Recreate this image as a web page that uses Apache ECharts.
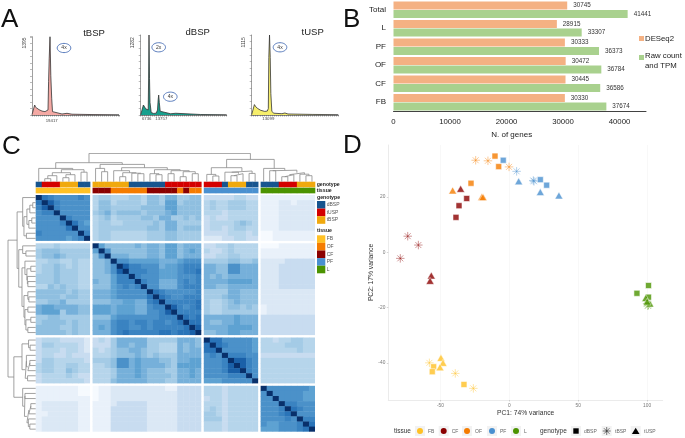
<!DOCTYPE html>
<html><head><meta charset="utf-8">
<style>html,body{margin:0;padding:0;background:#fff}#c{width:685px;height:438px;filter:blur(.3px)}</style>
<script src="https://cdn.jsdelivr.net/npm/echarts@6/dist/echarts.min.js"></script>
</head><body><div id="c"></div>
<script>
// ---------- Panel A: electropherograms ([position, signal])
const tbspTrace=[[0,5],[2.7,178],[3.5,140],[5,120],[7,95],[10,70],[13,60],[15,65],[16,90],[16.6,600],[17.2,1000],[18,1395],[18.8,700],[19.7,300],[20.5,60],[22,25],[30,18],[35,30],[40,14],[60,8],[87,5]];
const dbspTrace=[[0,5],[2.7,160],[3.5,135],[5,100],[6.5,75],[7.5,80],[7.9,560],[8.3,1282],[8.8,587],[9.3,200],[10.5,40],[13,25],[15.5,30],[16.8,80],[17.5,250],[18,320],[18.6,200],[19.5,60],[21,28],[30,20],[35,28],[37,15],[60,8],[86,5]];
const tuspTrace=[[0,5],[2.7,145],[4,115],[6,90],[9,65],[13,50],[15.5,55],[16.5,90],[17,800],[17.7,1115],[18.4,800],[19,300],[20,50],[22,25],[30,18],[33,28],[36,14],[60,8],[86,5]];
const peakMax=[1395,1282,1115];
// ---------- Panel B
const geneCats=['Total','L','PF','OF','CF','FB'];
const deseq2=[30745,28915,30333,30472,30445,30330];
const rawTpm=[41441,33307,36373,36784,36586,37674];
// ---------- Panel C: upper triangle of the sample distance heatmap, hex shade per cell
const block1Upper=["Fba9999a9","Fca99999","Fa99999","F99999","Fa999","Fb98","F99","Fa","F"];
const cross1vs2=["455444554665775566","466455554665885666","466555556666886666","567566665666786666","456455556657755656","455445555565775555","455555555665775666","455444444555665555","455444444555665555"];
const cross1vsPF=["333334433","454455544","454455544","444344444","343344444","344445654","344345544","333344434","222334433"];
const cross1vsL=["111111111","111221222","111222222","111222222","111222222","111222222","111222222","001111111","001111111"];
const block2Upper=["F86666676776886777","F9666666776886787","F777666776886777","F99888887778999","Fcaa9997889aaa","Faaa998889aab","Fa999888999a","Fa997779a9a","F997779aaa","Fba99999a","Fba99aaa","Faaaaab","Fca9ab","Faaaa","Fbab","Fbb","Fc","F"];
const cross2vsPF=["334454444","433454444","334455444","555566556","776699777","776699777","767677777","777788887","776677777","555577666","555677666","544567666","544566565","544555555","777778777","766778777","777788887","667788777"];
const cross2vsL=["000111111","111111111","111111111","222233333","222333333","222333333","222333333","222333333","222333333","222222222","222222222","222222222","122222222","122222222","333333333","333333333","333333333","333333333"];
const block3Upper=["Fbb999998","Fba99998","F999998","Faaa99","Fcca9","Fca9","Fa9","F9","F"];
const crossPFvsL=["443445544","444455544","444444544","333333333","444444444","444444444","444444444","444444444","444444444"];
const block4Upper=["F99999998","F9999988","F999988","Faa999","Fba99","F999","Faa","Fb","F"];
// shared cluster tree: [height, left, right], 0 = leaf
const treeFB=[13.3,0,[12,[9,[6,[3,0,0],0],[7,[4,0,0],0]],[9.5,0,0]]];
const treeCFOF=[17.3,[13.3,0,[10,0,0]],[14,[11,0,[9,[5,0,0],[8.5,0,[8,0,0]]]],[12,[8,0,[7,0,0]],[11,[8,0,0],[10,[5,0,0],[8,0,0]]]]]];
const treePF=[14,[7.3,0,[5.7,0,0]],[10.7,[9.5,0,[8,[6,0,0],0]],[8.3,0,0]]];
const treeL=[13.3,0,[11.5,[11,0,0],[9,[7,[5,0,0],0],[7.5,0,[6,0,0]]]]];
const sampleTree=[28.3,[19,treeFB,treeCFOF],[22.3,treePF,treeL]];
const blockSizes=[9,18,9,9];
const genotypeBar="dtttbbbdd"+"bbbbbbddddddtttttt"+"tttdbbbdd"+"dddtttbbb";
const tissueBar="FFFFFFFFF"+"CCCOOOOOOCCCCCOCOO"+"PPPPPPPPP"+"LLLLLLLLL";
const genotypeColors={d:'#17558f',t:'#d40000',b:'#f0a90e'};
const tissueColors={F:'#ffc125',C:'#8b0000',O:'#f57c00',P:'#4a90d0',L:'#4b9300'};
const heatStops=['#f6fafe','#e9f1fa','#dbe8f5','#c8dcf0','#b6d5eb','#a4cbe6','#8fbfe0','#76b0da','#5ea2d2','#4b91c9','#3a83c1','#2a74b8','#1a60a8','#114f96','#0b3f80','#08306b'];
// ---------- Panel D: PCA coordinates
const fbSquare=[[-54.9,-41.3],[-55.9,-43.1],[-32.9,-47.7]];
const fbStar=[[-58,-39.9],[-39.2,-43.7],[-26.1,-49.1]];
const fbTri=[[-49.6,-38.1],[-48.1,-39.9],[-50.3,-41.5]];
const cfSquare=[[-30.9,19.4],[-36.5,16.8],[-38.7,12.6]];
const cfStar=[[-73.7,5.8],[-66,2.6],[-79.1,-2.2]];
const cfTri=[[-35.3,22.9],[-56.6,-8.4],[-57.5,-10.3]];
const ofSquare=[[-27.8,24.9],[-10.4,34.7],[-7.7,30.9]];
const ofStar=[[-24.4,33.2],[-15.5,33],[-0.2,30.8]];
const ofTri=[[-41.1,22.3],[-20,19.9],[-19.1,19.9]];
const pfSquare=[[-4.4,33.2],[22.5,26.2],[27.1,24.2]];
const pfStar=[[5.3,29.2],[17.9,25.6],[17.4,25.9]];
const pfTri=[[6.8,25.6],[22.5,21.7],[36,20.5]];
const lSquare=[[101,-12],[92.6,-14.8],[101,-16.2]];
const lStar=[[100,-18.5],[101,-19],[100.5,-19.3]];
const lTri=[[99,-16.5],[102,-18.5],[100,-17.8]];
const pcaXTicks=[-50,0,50,100], pcaYTicks=[-40,-20,0,20];

const FONT='"Liberation Sans",Arial,sans-serif';
// ---- assemble heat matrix (symmetric)
const N=45, M=[...Array(N)].map(()=>Array(N).fill(0));
const put=(r,c,ch)=>{const v=parseInt(ch,16);M[r][c]=v;M[c][r]=v;};
const tri=(rows,off)=>rows.forEach((s,k)=>{for(let i=0;i<s.length;i++)put(off+k,off+k+i,s[i]);});
const rect=(rows,ro,co)=>rows.forEach((s,k)=>{for(let i=0;i<s.length;i++)put(ro+k,co+i,s[i]);});
tri(block1Upper,0);tri(block2Upper,9);tri(block3Upper,27);tri(block4Upper,36);
rect(cross1vs2,0,9);rect(cross1vsPF,0,27);rect(cross1vsL,0,36);rect(cross2vsPF,9,27);rect(cross2vsL,9,36);rect(crossPFvsL,27,36);
const heatData=[];for(let r=0;r<N;r++)for(let c=0;c<N;c++)heatData.push([c,r,M[r][c]]);
const blockOf=i=>{let a=0;for(let b=0;b<4;b++){a+=blockSizes[b];if(i<a)return b;}return 3;};
const GX=0.41,GY=0.47,xSpan=N+3*GX,ySpan=N+3*GY;
const xpos=i=>i+GX*blockOf(i), ypos=i=>i+GY*blockOf(i);
// dendrogram segments
function dendro(tree,pos){let leaf=0;const segs=[];
 (function walk(n){if(n===0){return [pos(leaf++)+0.5,0];}
  const a=walk(n[1]),b=walk(n[2]),h=n[0];
  segs.push([a[0],a[1]],[a[0],h],[b[0],h],[b[0],b[1]],[NaN,NaN]);
  return [(a[0]+b[0])/2,h];})(tree);return segs;}

const grids=[
 {left:32,top:36.7,width:87,height:78.3},{left:140.7,top:35,width:86,height:80},{left:251.7,top:35,width:86.6,height:80},
 {left:393.5,top:0.5,width:252.5,height:111},
 {left:35.7,top:195,width:279.3,height:236.7},
 {left:35.7,top:181.7,width:279.3,height:12},
 {left:35.7,top:153.3,width:279.3,height:28.4},
 {left:8,top:195,width:27.7,height:236.7},
 {left:388.3,top:145,width:274.4,height:255}
];
const traceAxis=(i,maxx)=>({gridIndex:i,type:'value',min:0,max:maxx,interval:2,axisLine:{lineStyle:{color:'#555',width:.7}},axisTick:{show:true,length:1.5,lineStyle:{color:'#555',width:.5}},axisLabel:{show:false},splitLine:{show:false}});
const traceY=(i,p)=>({gridIndex:i,type:'value',min:0,max:p,interval:Math.round(p/12),axisLine:{show:true,lineStyle:{color:'#777',width:.7}},axisTick:{show:true,length:2,lineStyle:{color:'#777',width:.5}},axisLabel:{show:false},splitLine:{show:false}});
const hidden=(i,min,max,inv)=>({gridIndex:i,type:'value',min,max,show:false,inverse:!!inv});
const plain=v=>String(v);
const xAxes=[traceAxis(0,87),traceAxis(1,86),traceAxis(2,86),
 {gridIndex:3,type:'value',min:0,max:44690,interval:10000,axisLine:{show:true,lineStyle:{color:'#111',width:.8}},axisTick:{show:false},splitLine:{show:false},axisLabel:{formatter:plain,fontFamily:FONT,fontSize:7.8,color:'#222',margin:6,showMaxLabel:false}},
 hidden(4,0,xSpan),hidden(5,0,xSpan),hidden(6,0,xSpan),hidden(7,0,28.3,true),
 {gridIndex:8,type:'value',min:-87.8,max:111.3,axisLine:{show:true,onZero:false,lineStyle:{color:'#e6e6e6',width:.8}},axisTick:{show:true,length:1.5,customValues:pcaXTicks,lineStyle:{color:'#aaa',width:.5}},splitLine:{show:true,lineStyle:{color:'#f3f3f3',width:.6}},axisLabel:{customValues:pcaXTicks,fontFamily:FONT,fontSize:4.8,color:'#777',margin:3}}
];
const yAxes=[traceY(0,peakMax[0]),traceY(1,peakMax[1]),traceY(2,peakMax[2]),
 {gridIndex:3,type:'category',data:geneCats,inverse:true,axisLine:{show:false},axisTick:{show:false},axisLabel:{fontFamily:FONT,fontSize:8,color:'#222',margin:7.5}},
 hidden(4,0,ySpan,true),hidden(5,0,2,true),hidden(6,0,28.4),hidden(7,0,ySpan,true),
 {gridIndex:8,type:'value',min:-53.3,max:38.7,axisLine:{show:true,onZero:false,lineStyle:{color:'#e6e6e6',width:.8}},axisTick:{show:true,length:1.5,customValues:pcaYTicks,lineStyle:{color:'#aaa',width:.5}},splitLine:{show:false},axisLabel:{customValues:pcaYTicks,fontFamily:FONT,fontSize:4.8,color:'#777',margin:3}}
];
const trace=(i,d,c)=>({type:'line',xAxisIndex:i,yAxisIndex:i,data:d,symbol:'none',silent:true,animation:false,lineStyle:{color:'#333',width:.8},areaStyle:{color:c,opacity:1}});
const barLab={show:true,position:'right',distance:6,fontFamily:FONT,fontSize:6.3,color:'#333'};
const cellRect=(api,x0,y0,x1,y1,fill)=>{const a=api.coord([x0,y0]),b=api.coord([x1,y1]);return {type:'rect',shape:{x:a[0],y:a[1],width:b[0]-a[0],height:b[1]-a[1]},style:{fill}};};
const annotData=[];for(let c=0;c<N;c++){annotData.push([c,0,genotypeColors[genotypeBar[c]]]);annotData.push([c,1,tissueColors[tissueBar[c]]]);}
const STAR='path://M0 -10V10M-10 0H10M-7 -7L7 7M-7 7L7 -7';
const pca=(d,kind,color)=>{
 const base={type:'scatter',xAxisIndex:8,yAxisIndex:8,data:d,animation:false,silent:true};
 if(kind==='s')return {...base,symbol:'rect',symbolSize:6,itemStyle:{color,borderColor:'#fff',borderWidth:.7}};
 if(kind==='t')return {...base,symbol:'triangle',symbolSize:[8,7],itemStyle:{color,borderColor:'#fff',borderWidth:.6}};
 return {...base,symbol:STAR,symbolSize:8.5,itemStyle:{color:'rgba(0,0,0,0)',borderColor:color,borderWidth:.6,opacity:.7}};
};
const C=tissueColors;
const series=[
 trace(0,tbspTrace,'#f4a9a4'),trace(1,dbspTrace,'#17a08e'),trace(2,tuspTrace,'#f6ee6c'),
 {type:'bar',name:'DESeq2',xAxisIndex:3,yAxisIndex:3,data:deseq2,barWidth:8,barGap:'5%',silent:true,animation:false,itemStyle:{color:'#f4b183'},label:barLab},
 {type:'bar',name:'Raw count and TPM',xAxisIndex:3,yAxisIndex:3,data:rawTpm,barWidth:8,barGap:'5%',silent:true,animation:false,itemStyle:{color:'#a9d18e'},label:barLab},
 {type:'custom',xAxisIndex:4,yAxisIndex:4,data:heatData,silent:true,animation:false,encode:{x:0,y:1},
  renderItem:(p,api)=>{const c=api.value(0),r=api.value(1);const x=xpos(c),y=ypos(r);
   const a=api.coord([x,y]),b=api.coord([x+1,y+1]);
   const ex=(c===N-1||blockOf(c)!==blockOf(c+1))?0:.4, ey=(r===N-1||blockOf(r)!==blockOf(r+1))?0:.4;
   return {type:'rect',shape:{x:a[0],y:a[1],width:b[0]-a[0]+ex,height:b[1]-a[1]+ey},style:{fill:api.visual('color')}};}},
 {type:'custom',xAxisIndex:5,yAxisIndex:5,data:annotData,silent:true,animation:false,encode:{x:0,y:1},
  renderItem:(p,api)=>{const c=api.value(0),r=api.value(1);const i=p.dataIndex;return cellRect(api,xpos(c),r,xpos(c)+1.05,r+.94,annotData[i][2]);}},
 {type:'line',xAxisIndex:6,yAxisIndex:6,data:dendro(sampleTree,xpos),symbol:'none',silent:true,animation:false,connectNulls:false,lineStyle:{color:'#8a8a8a',width:.8}},
 {type:'line',xAxisIndex:7,yAxisIndex:7,data:dendro(sampleTree,ypos).map(p=>[p[1],p[0]]),symbol:'none',silent:true,animation:false,connectNulls:false,lineStyle:{color:'#8a8a8a',width:.8}},
 pca(fbStar,'x',C.F),pca(cfStar,'x',C.C),pca(ofStar,'x',C.O),pca(pfStar,'x',C.P),pca(lStar,'x',C.L),
 pca(fbSquare,'s',C.F),pca(cfSquare,'s',C.C),pca(ofSquare,'s',C.O),pca(pfSquare,'s',C.P),pca(lSquare,'s',C.L),
 pca(fbTri,'t',C.F),pca(cfTri,'t',C.C),pca(ofTri,'t',C.O),pca(pfTri,'t',C.P),pca(lTri,'t',C.L)
];
// ---- graphic annotations
const g=[];
const T=(text,x,y,size,opt={})=>g.push({type:'text',x,y,rotation:opt.rot||0,silent:true,style:{text,fontFamily:FONT,fontSize:size,fontWeight:opt.bold?'bold':'normal',fill:opt.color||'#222',align:opt.align||'left',verticalAlign:'middle'}});
const R=(x,y,w,h,fill)=>g.push({type:'rect',silent:true,shape:{x,y,width:w,height:h},style:{fill}});
['A','B','C','D'].forEach((L,i)=>T(L,[1,343,2,343][i],[19.5,19.5,147,146][i],26,{color:'#111'}));
[['tBSP',94,33],['dBSP',197.7,32],['tUSP',312.7,32]].forEach(a=>T(a[0],a[1],a[2],9.5,{align:'center'}));
[[64,48,'4x'],[158.7,47.3,'2x'],[170.3,96.7,'4x'],[280,47.3,'4x']].forEach(e=>{
 g.push({type:'ellipse',silent:true,shape:{cx:e[0],cy:e[1],rx:6.8,ry:4.6},style:{fill:'none',stroke:'#4a6fb5',lineWidth:.9}});
 T(e[2],e[0],e[1],5,{align:'center',color:'#333'});});
peakMax.forEach((p,i)=>T(String(p),[25,133,243.7][i],[43,42.7,42.3][i],5,{align:'center',rot:Math.PI/2,color:'#444'}));
[['19417',51.7,121],['6736',146.7,118.5],['13757',161.3,118.5],['13099',268.3,119.3]].forEach(a=>T(a[0],a[1],a[2],4.3,{align:'center',color:'#444'}));
// panel B extras
T('N. of genes',511.7,135,8,{align:'center'});
R(639,36,5,5,'#f4b183');T('DESeq2',645,38.5,7.8);
R(639,55,5,5,'#a9d18e');T('Raw count',645,55.7,7.8);T('and TPM',645,66,7.8);
// panel C legends
T('genotype',316.7,185,5.2,{bold:true});T('tissue',316.7,191,5.2,{bold:true});
T('genotype',317,197.3,5.2,{bold:true});
[['dBSP',genotypeColors.d],['tUSP',genotypeColors.t],['tBSP',genotypeColors.b]].forEach((a,i)=>{R(317,201+i*7.6,8.3,7.6,a[1]);T(a[0],326.7,204.8+i*7.6,5,{color:'#555'});});
T('tissue',317,231,5.2,{bold:true});
[['FB',C.F],['OF',C.O],['CF',C.C],['PF',C.P],['L',C.L]].forEach((a,i)=>{R(317,235.3+i*7.6,8.3,7.6,a[1]);T(a[0],326.7,239.1+i*7.6,5,{color:'#555'});});
// panel D labels + legend
T('PC1: 74% variance',525.7,412.7,6.7,{align:'center',color:'#333'});
T('PC2: 17% variance',370.7,272.5,6.7,{align:'center',rot:Math.PI/2,color:'#333'});
T('tissue',394,431.3,6.5,{color:'#333'});T('genotype',540,431.3,6.5,{color:'#333'});
[['FB',420,C.F],['CF',443.7,C.C],['OF',467,C.O],['PF',492,C.P],['L',516,C.L]].forEach(a=>{
 R(a[1]-5,426,10,10,'#f2f2f2');g.push({type:'circle',silent:true,shape:{cx:a[1],cy:431,r:3},style:{fill:a[2]}});
 T(a[0],a[1]+8,431.3,5,{color:'#666'});});
R(571,426,10,10,'#f2f2f2');R(573.3,428.3,5.4,5.4,'#000');T('dBSP',584,431.3,5,{color:'#666'});
R(601.7,426,10,10,'#f2f2f2');T('tBSP',615,431.3,5,{color:'#666'});
[[0,-4,0,4],[-4,0,4,0],[-2.8,-2.8,2.8,2.8],[-2.8,2.8,2.8,-2.8]].forEach(l=>g.push({type:'line',silent:true,shape:{x1:606.7+l[0],y1:431+l[1],x2:606.7+l[2],y2:431+l[3]},style:{stroke:'#222',lineWidth:.6}}));
R(630.7,426,10,10,'#f2f2f2');g.push({type:'polygon',silent:true,shape:{points:[[635.7,427.7],[639.5,434],[631.9,434]]},style:{fill:'#000'}});T('tUSP',644,431.3,5,{color:'#666'});

const chart=echarts.init(document.getElementById('c'),null,{renderer:'canvas'});
chart.setOption({animation:false,backgroundColor:'#fff',textStyle:{fontFamily:FONT},grid:grids,xAxis:xAxes,yAxis:yAxes,series,
 visualMap:{show:false,type:'continuous',seriesIndex:5,dimension:2,min:0,max:15,inRange:{color:heatStops}},
 graphic:{elements:g}});
</script></body></html>
